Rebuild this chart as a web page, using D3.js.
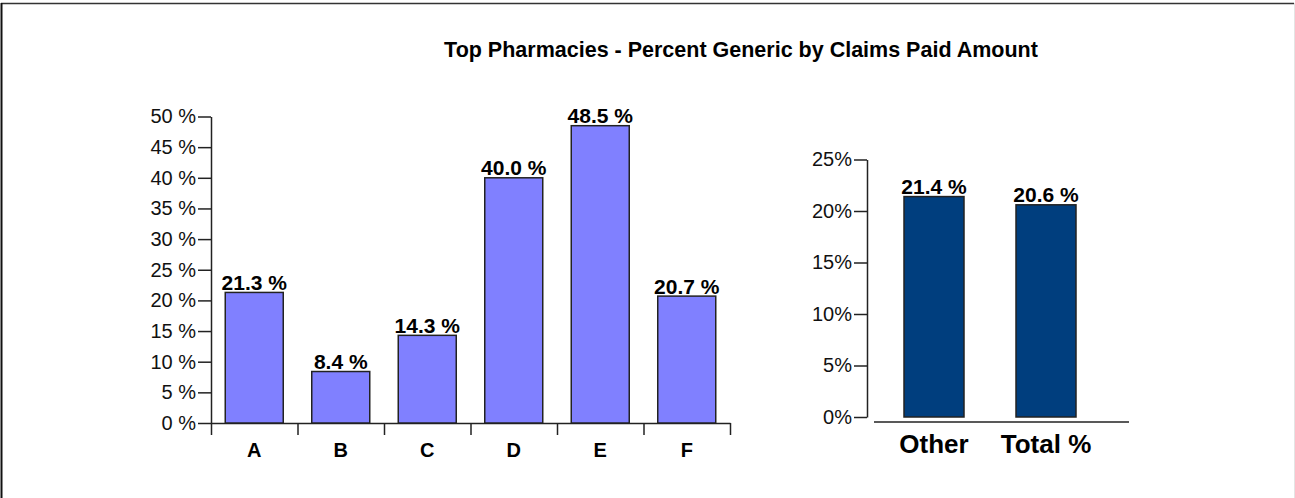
<!DOCTYPE html>
<html>
<head>
<meta charset="utf-8">
<script src="https://cdn.jsdelivr.net/npm/d3@7"></script>
<style>
  body { margin: 0; background: #fff; }
  svg text { font-family: "Liberation Sans", Arial, sans-serif; }
</style>
</head>
<body>
<svg id="chart"></svg>
<script>
// pharmacy bars (left panel)
const pharmacies = ['A', 'B', 'C', 'D', 'E', 'F'];
const pharmacyPct = [21.3, 8.4, 14.3, 40.0, 48.5, 20.7];
const leftTicks = [0, 5, 10, 15, 20, 25, 30, 35, 40, 45, 50];

// summary bars (right panel)
const summaryCats = ['Other', 'Total %'];
const summaryPct = [21.4, 20.6];
const rightTicks = [0, 5, 10, 15, 20, 25];

const W = 1295, H = 498;
const svg = d3.select('#chart').attr('width', W).attr('height', H);

// outer frame
svg.append('line').attr('x1', 1).attr('y1', 3.5).attr('x2', 1294).attr('y2', 3.5)
  .attr('stroke', '#333').attr('stroke-width', 1.5);
svg.append('line').attr('x1', 1.5).attr('y1', 3).attr('x2', 1.5).attr('y2', H)
  .attr('stroke', '#111').attr('stroke-width', 2);
svg.append('line').attr('x1', 1294.5).attr('y1', 3).attr('x2', 1294.5).attr('y2', H)
  .attr('stroke', '#e4e4e4').attr('stroke-width', 1);

svg.append('text')
  .attr('x', 741).attr('y', 57)
  .attr('text-anchor', 'middle')
  .style('font-size', '21.5px').style('font-weight', 'bold')
  .text('Top Pharmacies - Percent Generic by Claims Paid Amount');

// ---- left panel ----
const yL = d3.scaleLinear().domain([0, 50]).range([423, 116.5]);
const xL = d3.scaleBand().domain(pharmacies).range([211, 730]);
const barWL = 58;

const yAxisL = svg.append('g').attr('transform', 'translate(211,0)')
  .call(d3.axisLeft(yL).tickValues(leftTicks).tickSize(13).tickSizeOuter(0)
    .tickFormat(d => d + ' %'));
yAxisL.selectAll('text').style('font-size', '20px').attr('fill', '#111').attr('x', -15);
yAxisL.selectAll('line, path').attr('stroke', '#222').attr('stroke-width', 1.5);

// category boundaries as ticks below the axis
const xEdge = d3.scaleLinear().domain([0, pharmacies.length]).range([211, 730]);
const xAxisL = svg.append('g').attr('transform', 'translate(0,423)')
  .call(d3.axisBottom(xEdge).ticks(pharmacies.length).tickSize(12).tickSizeOuter(0).tickFormat(''));
xAxisL.selectAll('line, path').attr('stroke', '#222').attr('stroke-width', 1.5);

svg.append('g').selectAll('text').data(pharmacies).join('text')
  .attr('x', d => xL(d) + xL.bandwidth() / 2).attr('y', 457)
  .attr('text-anchor', 'middle')
  .style('font-size', '20px').style('font-weight', 'bold')
  .text(d => d);

svg.append('g').selectAll('rect').data(pharmacyPct).join('rect')
  .attr('x', (d, i) => xL(pharmacies[i]) + (xL.bandwidth() - barWL) / 2)
  .attr('y', d => yL(d))
  .attr('width', barWL)
  .attr('height', d => yL(0) - yL(d))
  .attr('fill', '#8080ff').attr('stroke', '#222').attr('stroke-width', 1.5);

svg.append('g').selectAll('text').data(pharmacyPct).join('text')
  .attr('x', (d, i) => xL(pharmacies[i]) + xL.bandwidth() / 2)
  .attr('y', d => yL(d) - 2.5)
  .attr('text-anchor', 'middle')
  .style('font-size', '21px').style('font-weight', 'bold')
  .text(d => d.toFixed(1) + ' %');

// ---- right panel ----
const yR = d3.scaleLinear().domain([0, 25]).range([417, 159.5]);
const xR = d3.scaleBand().domain(summaryCats).range([878, 1102]);
const barWR = 60;

const yAxisR = svg.append('g').attr('transform', 'translate(867,0)')
  .call(d3.axisLeft(yR).tickValues(rightTicks).tickSize(13).tickSizeOuter(0)
    .tickFormat(d => d + '%'));
yAxisR.selectAll('text').style('font-size', '20px').attr('fill', '#111').attr('x', -15);
yAxisR.selectAll('line, path').attr('stroke', '#222').attr('stroke-width', 1.5);

svg.append('line').attr('x1', 874).attr('x2', 1129).attr('y1', 422).attr('y2', 422)
  .attr('stroke', '#222').attr('stroke-width', 1.5);

svg.append('g').selectAll('rect').data(summaryPct).join('rect')
  .attr('x', (d, i) => xR(summaryCats[i]) + (xR.bandwidth() - barWR) / 2)
  .attr('y', d => yR(d))
  .attr('width', barWR)
  .attr('height', d => yR(0) - yR(d))
  .attr('fill', '#003e7e').attr('stroke', '#222').attr('stroke-width', 1.5);

svg.append('g').selectAll('text').data(summaryPct).join('text')
  .attr('x', (d, i) => xR(summaryCats[i]) + xR.bandwidth() / 2)
  .attr('y', d => yR(d) - 3)
  .attr('text-anchor', 'middle')
  .style('font-size', '21px').style('font-weight', 'bold')
  .text(d => d.toFixed(1) + ' %');

svg.append('g').selectAll('text').data(summaryCats).join('text')
  .attr('x', d => xR(d) + xR.bandwidth() / 2).attr('y', 453)
  .attr('text-anchor', 'middle')
  .style('font-size', '26px').style('font-weight', 'bold')
  .text(d => d);
</script>
</body>
</html>
